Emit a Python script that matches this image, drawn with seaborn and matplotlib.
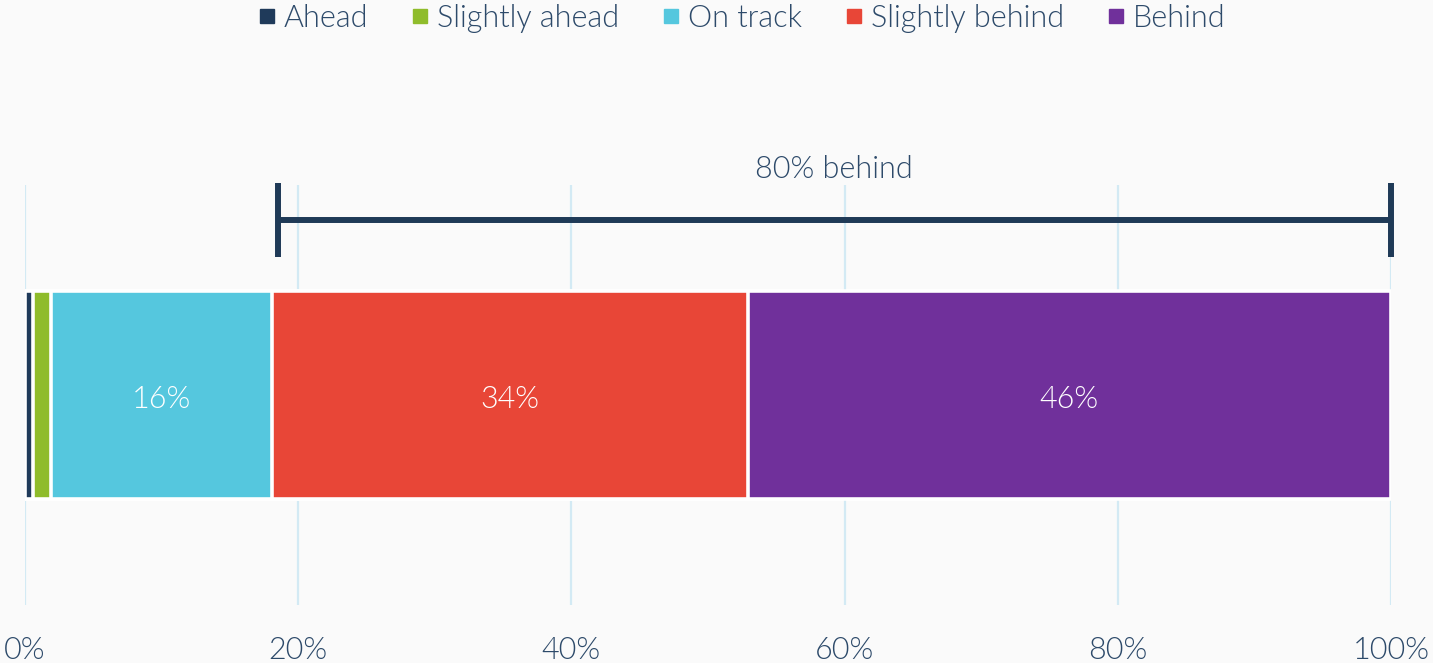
import matplotlib
matplotlib.use("Agg")
import matplotlib.pyplot as plt
import matplotlib.transforms as mtransforms
from matplotlib.lines import Line2D
import seaborn as sns
import numpy as np
import pandas as pd

categories = ["Ahead", "Slightly ahead", "On track", "Slightly behind", "Behind"]
values = [0.6, 1.3, 16.2, 34.8, 47.1]
bar_labels = ["", "", "16%", "34%", "46%"]
colors = ["#1f3a5a", "#8fbc2b", "#55c7de", "#e84637", "#70309b"]
bracket_range = [18.5, 100]
bracket_text = "80% behind"
xticks = [0, 20, 40, 60, 80, 100]
xtick_labels = ["0%", "20%", "40%", "60%", "80%", "100%"]

sns.set_theme(style="white")
plt.rcParams['font.family'] = ['Lato', 'DejaVu Sans']

text_color = "#2d4a6a"
bg = "#fafafa"
FW = 300

fig = plt.figure(figsize=(14.33, 6.63), dpi=100, facecolor=bg)
ax = fig.add_axes([25/1433, 1-605/663, (1391-25)/1433, (605-185)/663])
ax.set_facecolor(bg)

cum = np.cumsum(values)
df = pd.DataFrame({"cat": categories, "value": values, "cum": cum, "row": [""] * len(values)})

# draw cumulative bars from largest to smallest so each segment shows
for i in reversed(range(len(categories))):
    sub = df.iloc[[i]]
    sns.barplot(data=sub, x="cum", y="row", orient="h", color=colors[i],
                edgecolor="white", linewidth=2.6, width=0.496, ax=ax,
                saturation=1, zorder=3)

ax.set_xlim(0, 100)
ax.set_ylim(0.5, -0.5)

# segment labels
starts = cum - np.array(values)
for s, v, lab in zip(starts, values, bar_labels):
    if lab:
        ax.text(s + v / 2, 0.01, lab, ha="center", va="center", color="white",
                fontsize=22, fontweight=FW, zorder=5)

# gridlines
ax.set_xticks(xticks)
ax.set_xticklabels(xtick_labels)
ax.grid(axis="x", color="#d3eaf4", linewidth=1.6)
ax.grid(axis="y", visible=False)
ax.set_axisbelow(True)
for sp in ax.spines.values():
    sp.set_visible(False)
ax.tick_params(axis="x", length=0, pad=22, labelsize=22, labelcolor=text_color)
ax.tick_params(axis="y", length=0, labelleft=False)
for t in ax.get_xticklabels():
    t.set_fontweight(FW)
ax.set_xlabel("")
ax.set_ylabel("")

# bracket
trans = mtransforms.blended_transform_factory(ax.transData, ax.transAxes)
y_line = (605 - 220) / 420
y_top = (605 - 183) / 420
y_bot = (605 - 257) / 420
bc = "#1f3a57"
ax.plot(bracket_range, [y_line, y_line], color=bc, lw=4.3, transform=trans,
        clip_on=False, solid_capstyle="butt", zorder=4)
for xb in bracket_range:
    ax.plot([xb, xb], [y_bot, y_top], color=bc, lw=4.3, transform=trans,
            clip_on=False, solid_capstyle="butt", zorder=4)
ax.text(sum(bracket_range) / 2, (605 - 170) / 420, bracket_text, transform=trans,
        ha="center", va="center", fontsize=22, color=text_color, fontweight=FW)

# legend
handles = [Line2D([0], [0], marker="s", linestyle="", markersize=10,
                  markerfacecolor=c, markeredgecolor=c) for c in colors]
leg = fig.legend(handles, categories, loc="upper center", ncol=5,
                 bbox_to_anchor=(740 / 1433, 1.036), frameon=False,
                 prop={"size": 22, "weight": FW}, handletextpad=0.15,
                 columnspacing=1.3, handlelength=0.8)
for t in leg.get_texts():
    t.set_color(text_color)

fig.savefig("out.png", dpi=100, facecolor=bg)
